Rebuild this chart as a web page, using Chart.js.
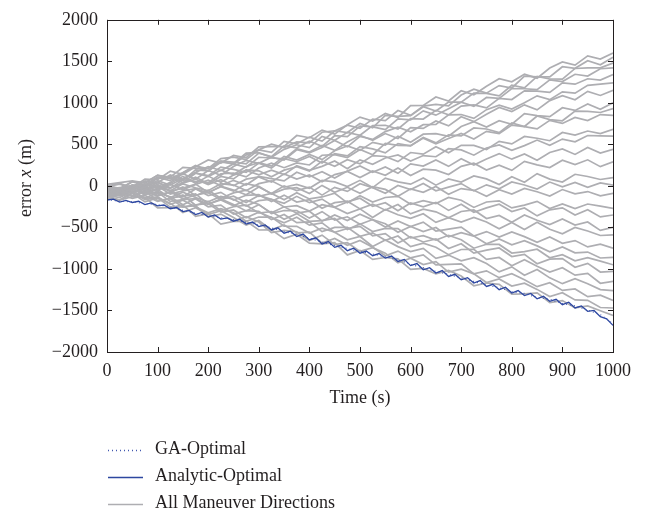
<!DOCTYPE html>
<html>
<head>
<meta charset="utf-8">
<script src="https://cdn.jsdelivr.net/npm/chart.js@4.4.0/dist/chart.umd.min.js"></script>
<style>
  html, body { margin: 0; padding: 0; background: #ffffff; }
  #wrap { width: 646px; height: 514px; }
</style>
</head>
<body>
<div id="wrap"><canvas id="errChart" width="646" height="514"></canvas></div>
<script>
// time samples (s)
const times = [0, 25, 50, 75, 100, 125, 150, 175, 200, 225, 250, 275, 300, 325, 350, 375, 400, 425, 450, 475,
  500, 525, 550, 575, 600, 625, 650, 675, 700, 725, 750, 775, 800, 825, 850, 875, 900, 925, 950, 975, 1000];

// the analytic curve is sampled twice as often
const fineTimes = [0, 12.5, 25, 37.5, 50, 62.5, 75, 87.5, 100, 112.5, 125, 137.5, 150, 162.5, 175, 187.5, 200, 212.5, 225, 237.5,
  250, 262.5, 275, 287.5, 300, 312.5, 325, 337.5, 350, 362.5, 375, 387.5, 400, 412.5, 425, 437.5, 450, 462.5, 475, 487.5,
  500, 512.5, 525, 537.5, 550, 562.5, 575, 587.5, 600, 612.5, 625, 637.5, 650, 662.5, 675, 687.5, 700, 712.5, 725, 737.5,
  750, 762.5, 775, 787.5, 800, 812.5, 825, 837.5, 850, 862.5, 875, 887.5, 900, 912.5, 925, 937.5, 950, 962.5, 975, 987.5, 1000];

const xTicks = [0, 100, 200, 300, 400, 500, 600, 700, 800, 900, 1000];
const yTicks = [-2000, -1500, -1000, -500, 0, 500, 1000, 1500, 2000];

const seriesNames = ['GA-Optimal', 'Analytic-Optimal', 'All Maneuver Directions'];

// error x (m)
const gaOptimal = [-165, -185, -190, -215, -225, -255, -295, -330, -360, -385, -405, -440, -470, -505, -550, -585, -630, -675, -720, -755,
  -790, -820, -855, -885, -945, -985, -1030, -1065, -1110, -1150, -1195, -1225, -1275, -1295, -1345, -1365, -1415, -1445, -1495, -1550, -1660];

const analyticOptimal = [-170, -160, -195, -175, -200, -185, -225, -205, -240, -230, -275, -260, -310, -295, -345, -320, -375, -350, -400, -385,
  -425, -400, -460, -435, -490, -470, -530, -505, -570, -545, -610, -580, -650, -625, -700, -670, -740, -715, -780, -750,
  -810, -785, -840, -815, -870, -845, -910, -885, -960, -935, -1010, -985, -1050, -1020, -1090, -1065, -1130, -1105, -1170, -1140,
  -1210, -1185, -1250, -1220, -1290, -1260, -1320, -1295, -1360, -1330, -1390, -1365, -1430, -1400, -1470, -1445, -1510, -1500, -1575, -1600, -1680];

// one row per maneuver direction
const allDirections = [
  [0, 30, -20, 82, 74, 176, 138, 231, 313, 275, 367, 339, 471, 473, 475, 607, 580, 672, 624, 736, 828, 780, 872, 824, 966, 968, 1071, 1023, 1145, 1097, 1199, 1291, 1253, 1345, 1297, 1419, 1492, 1454, 1566, 1528, 1600],
  [-20, -50, 0, 11, 103, 64, 155, 237, 208, 299, 260, 372, 433, 404, 536, 507, 588, 540, 661, 732, 693, 805, 786, 907, 849, 960, 981, 963, 1094, 1165, 1117, 1208, 1179, 1321, 1312, 1313, 1435, 1416, 1507, 1459, 1550],
  [20, 40, 60, 38, 127, 105, 224, 212, 210, 329, 347, 316, 434, 502, 461, 529, 518, 646, 664, 643, 751, 700, 848, 836, 845, 953, 902, 1010, 1008, 1117, 1115, 1084, 1212, 1180, 1319, 1287, 1286, 1414, 1422, 1421, 1480],
  [-40, -70, 10, -22, 97, 105, 64, 192, 180, 299, 287, 266, 394, 352, 481, 459, 538, 476, 604, 593, 721, 710, 678, 806, 795, 903, 852, 930, 1008, 957, 1065, 1054, 1172, 1170, 1159, 1277, 1256, 1344, 1322, 1411, 1420],
  [10, -40, 50, 35, 130, 85, 160, 245, 180, 285, 270, 395, 400, 345, 440, 495, 460, 595, 550, 645, 610, 725, 730, 685, 810, 805, 910, 855, 960, 975, 940, 1055, 1040, 1145, 1140, 1125, 1240, 1225, 1290, 1275, 1340],
  [-60, -80, -40, 24, -32, 43, 147, 81, 185, 129, 234, 308, 272, 346, 310, 435, 399, 463, 547, 471, 596, 560, 654, 708, 652, 737, 741, 855, 859, 813, 918, 972, 926, 1000, 1084, 1039, 1133, 1117, 1211, 1225, 1240],
  [-10, 20, -30, 61, 41, 132, 82, 163, 233, 184, 264, 225, 345, 336, 326, 447, 407, 488, 428, 529, 609, 550, 630, 571, 701, 692, 782, 723, 833, 774, 864, 945, 895, 976, 916, 1027, 1087, 1038, 1138, 1089, 1150],
  [-30, -60, -10, -13, 64, 11, 88, 156, 113, 190, 137, 234, 281, 238, 355, 312, 379, 317, 424, 481, 428, 525, 492, 599, 526, 623, 630, 598, 715, 772, 709, 786, 743, 870, 847, 834, 941, 909, 986, 923, 1000],
  [-80, -60, -40, -73, 3, -30, 76, 53, 40, 146, 153, 109, 216, 273, 219, 276, 252, 369, 376, 342, 439, 375, 512, 489, 485, 582, 518, 615, 602, 698, 685, 641, 758, 715, 841, 798, 784, 901, 898, 884, 930],
  [0, -30, 50, 2, 105, 97, 40, 152, 124, 227, 199, 162, 274, 216, 329, 291, 354, 276, 388, 361, 473, 446, 398, 510, 483, 575, 508, 570, 632, 565, 657, 630, 732, 714, 687, 789, 752, 824, 786, 859, 850],
  [-50, -100, -10, -41, 38, -22, 37, 106, 25, 114, 84, 193, 182, 111, 190, 230, 179, 298, 237, 316, 266, 365, 354, 293, 402, 382, 471, 400, 489, 488, 438, 537, 506, 595, 574, 544, 643, 612, 661, 630, 680],
  [-20, -40, 0, 46, -27, 29, 115, 32, 118, 44, 130, 187, 133, 189, 136, 242, 188, 235, 301, 207, 313, 260, 336, 372, 299, 365, 351, 448, 434, 370, 456, 493, 429, 485, 552, 488, 564, 531, 607, 603, 600],
  [-70, -40, -90, -17, -53, 20, -46, 17, 70, 4, 67, 11, 114, 87, 61, 164, 108, 171, 94, 178, 241, 165, 228, 151, 265, 238, 312, 235, 328, 252, 325, 389, 322, 385, 309, 402, 446, 379, 462, 396, 440],
  [-10, -40, 10, -12, 46, -26, 32, 80, 17, 75, 3, 81, 109, 47, 145, 83, 131, 49, 136, 174, 102, 180, 128, 216, 124, 202, 190, 138, 235, 273, 191, 249, 187, 295, 253, 221, 309, 257, 314, 232, 290],
  [-40, -20, 0, -56, -3, -59, 25, -22, -58, 26, 10, -57, 27, 61, -16, 18, -28, 66, 49, -7, 67, -20, 94, 48, 21, 95, 9, 83, 46, 120, 84, 17, 111, 45, 148, 82, 46, 140, 113, 77, 100],
  [-90, -120, -40, -107, -25, -52, -130, -37, -84, -2, -49, -107, -14, -91, 1, -56, -14, -111, -18, -66, 27, -21, -88, 5, -43, 30, -58, -15, 28, -60, 13, -35, 48, 11, -37, 46, -12, 41, -16, 36, 10],
  [-30, -80, 10, -42, 17, -65, -26, 22, -80, -11, -63, 26, -6, -98, -39, -21, -92, 6, -76, -17, -89, -10, -42, -124, -35, -77, -8, -100, -32, -53, -125, -46, -98, -30, -71, -123, -44, -96, -68, -119, -90],
  [-60, -80, -40, -16, -111, -77, -12, -118, -53, -149, -84, -50, -125, -91, -166, -82, -157, -133, -88, -204, -119, -195, -140, -126, -221, -177, -212, -138, -173, -259, -194, -180, -265, -231, -186, -272, -217, -273, -218, -244, -270],
  [-100, -70, -120, -67, -123, -70, -156, -113, -80, -166, -123, -199, -116, -163, -209, -126, -202, -159, -256, -192, -149, -245, -202, -299, -205, -252, -198, -295, -222, -318, -265, -221, -308, -265, -361, -288, -264, -351, -288, -374, -350],
  [-20, -50, 0, -43, -5, -98, -60, -33, -116, -78, -171, -113, -106, -189, -111, -194, -166, -269, -202, -184, -277, -219, -292, -225, -337, -280, -312, -385, -308, -290, -393, -355, -438, -351, -413, -466, -398, -471, -434, -536, -500],
  [-70, -50, -30, -104, -67, -141, -75, -139, -192, -126, -160, -243, -177, -161, -254, -238, -302, -226, -259, -333, -277, -380, -284, -348, -391, -335, -439, -383, -436, -380, -434, -517, -441, -525, -438, -522, -576, -500, -543, -597, -590],
  [-110, -140, -60, -147, -84, -130, -227, -154, -221, -158, -224, -301, -228, -325, -252, -328, -305, -422, -349, -416, -342, -409, -496, -423, -490, -436, -543, -520, -497, -604, -550, -617, -554, -611, -678, -614, -691, -658, -735, -702, -750],
  [-50, -100, -10, -81, -43, -144, -125, -97, -218, -169, -240, -172, -223, -334, -296, -297, -388, -310, -411, -372, -463, -405, -456, -557, -489, -550, -501, -613, -564, -605, -696, -638, -709, -660, -722, -793, -734, -806, -797, -868, -860],
  [-90, -110, -70, -63, -175, -158, -110, -233, -186, -298, -251, -233, -326, -309, -401, -334, -426, -419, -392, -524, -457, -549, -512, -515, -627, -600, -652, -595, -648, -750, -703, -705, -808, -791, -763, -866, -828, -901, -864, -906, -950],
  [-130, -100, -150, -114, -187, -151, -255, -229, -212, -316, -290, -383, -317, -381, -444, -378, -472, -446, -559, -513, -487, -600, -574, -688, -611, -675, -639, -753, -696, -810, -774, -747, -851, -825, -938, -882, -876, -980, -933, -1037, -1030],
  [-60, -90, -40, -99, -77, -186, -165, -154, -252, -231, -340, -298, -307, -406, -344, -443, -432, -551, -499, -498, -607, -565, -654, -603, -731, -690, -739, -828, -766, -765, -884, -862, -961, -890, -968, -1037, -986, -1075, -1053, -1172, -1150],
  [-100, -80, -60, -151, -131, -222, -172, -253, -323, -274, -324, -425, -375, -376, -486, -487, -567, -508, -558, -649, -609, -730, -650, -731, -791, -752, -872, -833, -903, -864, -934, -1035, -975, -1076, -1006, -1107, -1177, -1118, -1178, -1249, -1260],
  [-140, -170, -90, -193, -145, -208, -320, -263, -346, -298, -381, -473, -416, -529, -471, -564, -556, -689, -632, -714, -657, -739, -842, -785, -867, -830, -952, -945, -938, -1060, -1023, -1105, -1058, -1131, -1213, -1166, -1258, -1241, -1334, -1316, -1380],
  [-120, -170, -80, -166, -141, -257, -252, -238, -373, -339, -424, -370, -435, -561, -536, -552, -657, -593, -708, -684, -789, -745, -810, -926, -871, -947, -912, -1038, -1003, -1059, -1164, -1120, -1205, -1171, -1246, -1332, -1287, -1373, -1378, -1464, -1470],
  [-150, -170, -130, -137, -264, -261, -228, -366, -333, -460, -427, -424, -531, -528, -635, -582, -689, -697, -684, -831, -778, -885, -862, -879, -1006, -993, -1060, -1018, -1085, -1202, -1169, -1186, -1303, -1300, -1287, -1404, -1381, -1469, -1446, -1503, -1560]
];

const inkColor = '#231f20';
const grayColor = '#aeaeb2';
const blueColor = '#2d47a0';
const serif = '"Liberation Serif", "DejaVu Serif", serif';
const fontSize = 18;

function toPoints(values, t) {
  return values.map((v, i) => ({ x: t[i], y: v }));
}

const datasets = [];
datasets.push({
  label: seriesNames[0],
  data: toPoints(gaOptimal, times),
  borderColor: '#4259b0',
  borderWidth: 1.2,
  borderDash: [1, 3]
});
datasets.push({
  label: seriesNames[1],
  data: toPoints(analyticOptimal, fineTimes),
  borderColor: blueColor,
  borderWidth: 1.3
});
allDirections.forEach(function(line) {
  datasets.push({
    label: seriesNames[2],
    data: toPoints(line, times),
    borderColor: grayColor,
    borderWidth: 1.7
  });
});

// box round the plot with inward tick marks
const framePlugin = {
  id: 'frame',
  afterDatasetsDraw(chart) {
    const ctx = chart.ctx;
    const a = chart.chartArea;
    const xs = chart.scales.x;
    const ys = chart.scales.y;
    const len = 5;
    ctx.save();
    ctx.strokeStyle = inkColor;
    ctx.lineWidth = 1;
    ctx.strokeRect(Math.round(a.left) + 0.5, Math.round(a.top) + 0.5,
      Math.round(a.right - a.left), Math.round(a.bottom - a.top));
    ctx.beginPath();
    xTicks.forEach(function(v) {
      const px = Math.round(xs.getPixelForValue(v)) + 0.5;
      ctx.moveTo(px, a.bottom); ctx.lineTo(px, a.bottom - len);
      ctx.moveTo(px, a.top); ctx.lineTo(px, a.top + len);
    });
    yTicks.forEach(function(v) {
      const py = Math.round(ys.getPixelForValue(v)) + 0.5;
      ctx.moveTo(a.left, py); ctx.lineTo(a.left + len, py);
      ctx.moveTo(a.right, py); ctx.lineTo(a.right - len, py);
    });
    ctx.stroke();
    ctx.restore();
  }
};

// axis titles (y title has an italic x) and the legend under the plot
const textPlugin = {
  id: 'texts',
  afterDraw(chart) {
    const ctx = chart.ctx;
    const a = chart.chartArea;
    const f = fontSize + 'px ' + serif;
    ctx.save();
    ctx.fillStyle = inkColor;
    ctx.textBaseline = 'middle';

    ctx.font = f;
    ctx.textAlign = 'center';
    ctx.fillText('Time (s)', (a.left + a.right) / 2, 398);

    const parts = [['error ', f], ['x', 'italic ' + f], [' (m)', f]];
    let total = 0;
    parts.forEach(function(p) { ctx.font = p[1]; total += ctx.measureText(p[0]).width; });
    ctx.translate(26, 178);
    ctx.rotate(-Math.PI / 2);
    ctx.textAlign = 'left';
    let cx = -total / 2;
    parts.forEach(function(p) {
      ctx.font = p[1];
      ctx.fillText(p[0], cx, 0);
      cx += ctx.measureText(p[0]).width;
    });
    ctx.restore();

    ctx.save();
    const rows = [450, 477, 504];
    rows.forEach(function(y, i) {
      const ds = chart.data.datasets[i];
      ctx.strokeStyle = ds.borderColor;
      ctx.lineWidth = 1.3;
      ctx.setLineDash(ds.borderDash || []);
      ctx.beginPath();
      ctx.moveTo(108, y + 0.5);
      ctx.lineTo(143, y + 0.5);
      ctx.stroke();
      ctx.setLineDash([]);
      ctx.fillStyle = inkColor;
      ctx.font = f;
      ctx.textAlign = 'left';
      ctx.textBaseline = 'middle';
      ctx.fillText(seriesNames[i], 155, y - 1);
    });
    ctx.restore();
  }
};

new Chart(document.getElementById('errChart'), {
  type: 'line',
  data: { datasets: datasets },
  options: {
    responsive: false,
    animation: false,
    devicePixelRatio: 1,
    layout: { padding: { top: 16, right: 33, left: 0, bottom: 0 } },
    elements: { point: { radius: 0 }, line: { tension: 0 } },
    plugins: { legend: { display: false }, tooltip: { enabled: false } },
    scales: {
      x: {
        type: 'linear',
        min: xTicks[0],
        max: xTicks[xTicks.length - 1],
        grid: { display: false, drawTicks: false },
        border: { display: false },
        ticks: {
          stepSize: xTicks[1] - xTicks[0],
          padding: 8,
          color: inkColor,
          font: { family: serif, size: fontSize },
          maxRotation: 0,
          callback: function(v) { return String(v); }
        },
        afterFit(scale) { scale.height = 162; }
      },
      y: {
        type: 'linear',
        min: yTicks[0],
        max: yTicks[yTicks.length - 1],
        grid: { display: false, drawTicks: false },
        border: { display: false },
        ticks: {
          stepSize: yTicks[1] - yTicks[0],
          padding: 9,
          color: inkColor,
          font: { family: serif, size: fontSize },
          callback: function(v) { return String(v).replace('-', '\u2212'); }
        },
        afterFit(scale) { scale.width = 107; }
      }
    }
  },
  plugins: [framePlugin, textPlugin]
});
</script>
</body>
</html>
